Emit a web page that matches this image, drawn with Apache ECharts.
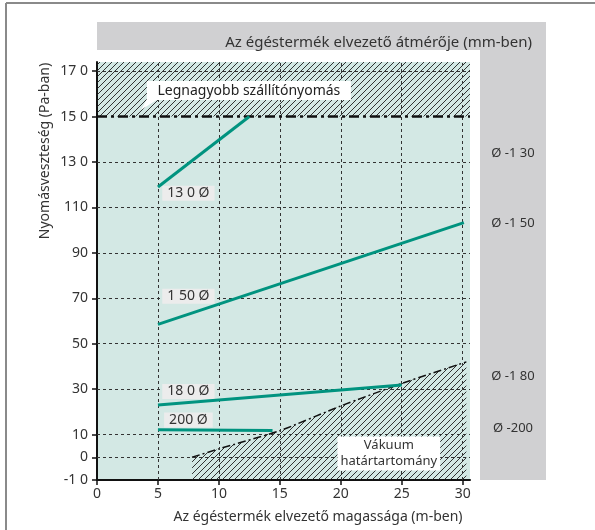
<!DOCTYPE html>
<html>
<head>
<meta charset="utf-8">
<script src="https://cdn.jsdelivr.net/npm/echarts@6/dist/echarts.min.js"></script>
<style>
  html, body { margin: 0; padding: 0; background: #fff; }
  #chart { width: 595px; height: 530px; }
</style>
</head>
<body>
<div id="chart"></div>
<script>
// tengelyek
const xTicks = [0, 5, 10, 15, 20, 25, 30];
const yTickValues = [-10, 0, 10, 30, 50, 70, 90, 110, 130, 150, 170];
const yTickLabels = ['-1 0', '0', '10', '30', '50', '70', '90', '110', '13 0', '15 0', '17 0'];

// csovek (magassag m, nyomasveszteseg Pa)
const pipe130 = [[5, 119], [12.5, 150]];
const pipe150 = [[5, 58.5], [30.1, 103.3]];
const pipe180 = [[5, 23], [25, 31.8]];
const pipe200 = [[5, 12.1], [14.4, 11.8]];
const pipeNames = ['13 0 Ø', '1 50 Ø', '18 0 Ø', '200 Ø'];
const pipeLabelY = [116.2, 70.9, 29, 16.4];

// hatarok
const maxPressure = 150;
const vacuumLimit = [[7.8, 0], [10, 3.7], [15, 11.7], [20, 22.6], [25, 32.5], [30.3, 42]];
const diameterLabels = ['Ø -1 30', 'Ø -1 50', 'Ø -1 80', 'Ø -200'];

const FONT = 'Noto Sans';
const TEAL = '#00937f';

/* vonalkazas minta */
function hatch() {
  const c = document.createElement('canvas');
  c.width = 6; c.height = 6;
  const g = c.getContext('2d');
  g.strokeStyle = '#1e1e1e';
  g.lineWidth = 0.9;
  g.beginPath();
  g.moveTo(0, 6); g.lineTo(6, 0);
  g.moveTo(-1, 1); g.lineTo(1, -1);
  g.moveTo(5, 7); g.lineTo(7, 5);
  g.stroke();
  return {image: c, repeat: 'repeat'};
}

const chart = echarts.init(document.getElementById('chart'));

function pipeSeries(data, idx) {
  return {
    type: 'line',
    data: data,
    showSymbol: false,
    silent: true,
    z: 5,
    lineStyle: {color: TEAL, width: 3},
    markPoint: {
      symbol: 'circle',
      symbolSize: 1,
      itemStyle: {color: 'transparent'},
      label: {
        show: true,
        position: 'inside',
        formatter: pipeNames[idx],
        fontFamily: FONT,
        fontSize: 14,
        color: '#333',
        backgroundColor: '#ececec',
        padding: [1, 5, 0, 5]
      },
      data: [{coord: [7.5, pipeLabelY[idx]]}]
    }
  };
}

let option = {
  animation: false,
  grid: {
    left: 97, right: 125, top: 62, bottom: 50,
    show: true,
    backgroundColor: '#d3e8e4',
    borderWidth: 0
  },
  xAxis: {
    type: 'value',
    min: 0,
    max: 30.6,
    axisLine: {onZero: false, lineStyle: {color: '#111', width: 2}},
    axisTick: {show: true, length: 5, customValues: xTicks, lineStyle: {color: '#111', width: 1.5}},
    axisLabel: {customValues: xTicks, margin: 7, fontFamily: FONT, fontSize: 14, color: '#333'},
    splitLine: {show: false}
  },
  yAxis: {
    type: 'value',
    min: -10,
    max: 174,
    axisLine: {show: true, onZero: false, lineStyle: {color: '#111', width: 2}},
    axisTick: {show: true, length: 5, customValues: yTickValues, lineStyle: {color: '#111', width: 1.5}},
    axisLabel: {
      customValues: yTickValues,
      margin: 9,
      fontFamily: FONT, fontSize: 14, color: '#333',
      formatter: v => yTickLabels[yTickValues.indexOf(v)]
    },
    splitLine: {show: false}
  },
  graphic: [
    {type: 'line', shape: {x1: 6, y1: 3, x2: 595, y2: 3}, style: {stroke: '#8a8a8a', lineWidth: 2}},
    {type: 'line', shape: {x1: 6, y1: 3, x2: 6, y2: 530}, style: {stroke: '#8a8a8a', lineWidth: 2}},
    {type: 'rect', shape: {x: 97, y: 22, width: 449, height: 28}, style: {fill: '#d0d0d2'}},
    {type: 'rect', shape: {x: 480, y: 22, width: 66, height: 458}, style: {fill: '#d0d0d2'}},
    {type: 'text', x: 532, y: 43, style: {text: 'Az égéstermék elvezető átmérője (mm-ben)', align: 'right', verticalAlign: 'middle', font: '15px "Noto Sans"', fill: '#333'}},
    {type: 'text', x: 318, y: 517, style: {text: 'Az égéstermék elvezető magassága (m-ben)', align: 'center', verticalAlign: 'middle', font: '14px "Noto Sans"', fill: '#333'}},
    {type: 'text', x: 45, y: 151, rotation: Math.PI / 2, style: {text: 'Nyomásveszteség (Pa-ban)', align: 'center', verticalAlign: 'middle', font: '14px "Noto Sans"', fill: '#333'}},
    {type: 'text', x: 513, y: 153, style: {text: diameterLabels[0], align: 'center', verticalAlign: 'middle', font: '13px "Noto Sans"', fill: '#333'}},
    {type: 'text', x: 513, y: 223, style: {text: diameterLabels[1], align: 'center', verticalAlign: 'middle', font: '13px "Noto Sans"', fill: '#333'}},
    {type: 'text', x: 513, y: 376, style: {text: diameterLabels[2], align: 'center', verticalAlign: 'middle', font: '13px "Noto Sans"', fill: '#333'}},
    {type: 'text', x: 513, y: 428, style: {text: diameterLabels[3], align: 'center', verticalAlign: 'middle', font: '13px "Noto Sans"', fill: '#333'}},
    {type: 'polygon', z: 50, shape: {points: [[147, 99], [158, 99], [141, 110]]}, style: {fill: '#fff'}}
  ],
  series: [
    {
      // racs + max nyomas
      type: 'line',
      data: [],
      silent: true,
      z: 3,
      markArea: {
        silent: true,
        itemStyle: {color: hatch()},
        data: [[{yAxis: maxPressure}, {yAxis: 174}]]
      },
      markLine: {
        silent: true,
        symbol: 'none',
        label: {show: false},
        lineStyle: {color: '#333', width: 1, type: [3, 3]},
        data: yTickValues.filter(v => v > -10 && v !== maxPressure).map(v => ({yAxis: v}))
          .concat(xTicks.filter(v => v > 0).map(v => ({xAxis: v})))
          .concat([{yAxis: maxPressure, lineStyle: {color: '#111', width: 2.5, type: [10, 4, 3, 4]}}])
      },
      markPoint: {
        symbol: 'circle',
        symbolSize: 1,
        itemStyle: {color: 'transparent'},
        label: {
          show: true, position: 'inside',
          formatter: 'Legnagyobb szállítónyomás',
          fontFamily: FONT, fontSize: 14, color: '#222',
          backgroundColor: '#fff',
          width: 194,
          align: 'center',
          padding: [3, 5, 2, 5]
        },
        data: [{coord: [12.46, 161.4]}]
      }
    },
    {
      // vakuum hatar
      type: 'line',
      data: vacuumLimit,
      showSymbol: false,
      silent: true,
      smooth: 0.2,
      z: 4,
      lineStyle: {color: '#111', width: 1.5, type: [8, 3, 2, 3]},
      areaStyle: {color: hatch(), origin: 'start', opacity: 1},
      markPoint: {
        symbol: 'circle',
        symbolSize: 1,
        itemStyle: {color: 'transparent'},
        label: {
          show: true, position: 'inside',
          formatter: 'Vákuum\nhatártartomány',
          fontFamily: FONT, fontSize: 13, lineHeight: 16, color: '#333',
          backgroundColor: '#fff',
          align: 'center',
          padding: [1, 3, 1, 3]
        },
        data: [{coord: [23.94, 1.7]}]
      }
    },
    pipeSeries(pipe130, 0),
    pipeSeries(pipe150, 1),
    pipeSeries(pipe180, 2),
    pipeSeries(pipe200, 3)
  ]
};
option && chart.setOption(option);
</script>
</body>
</html>
